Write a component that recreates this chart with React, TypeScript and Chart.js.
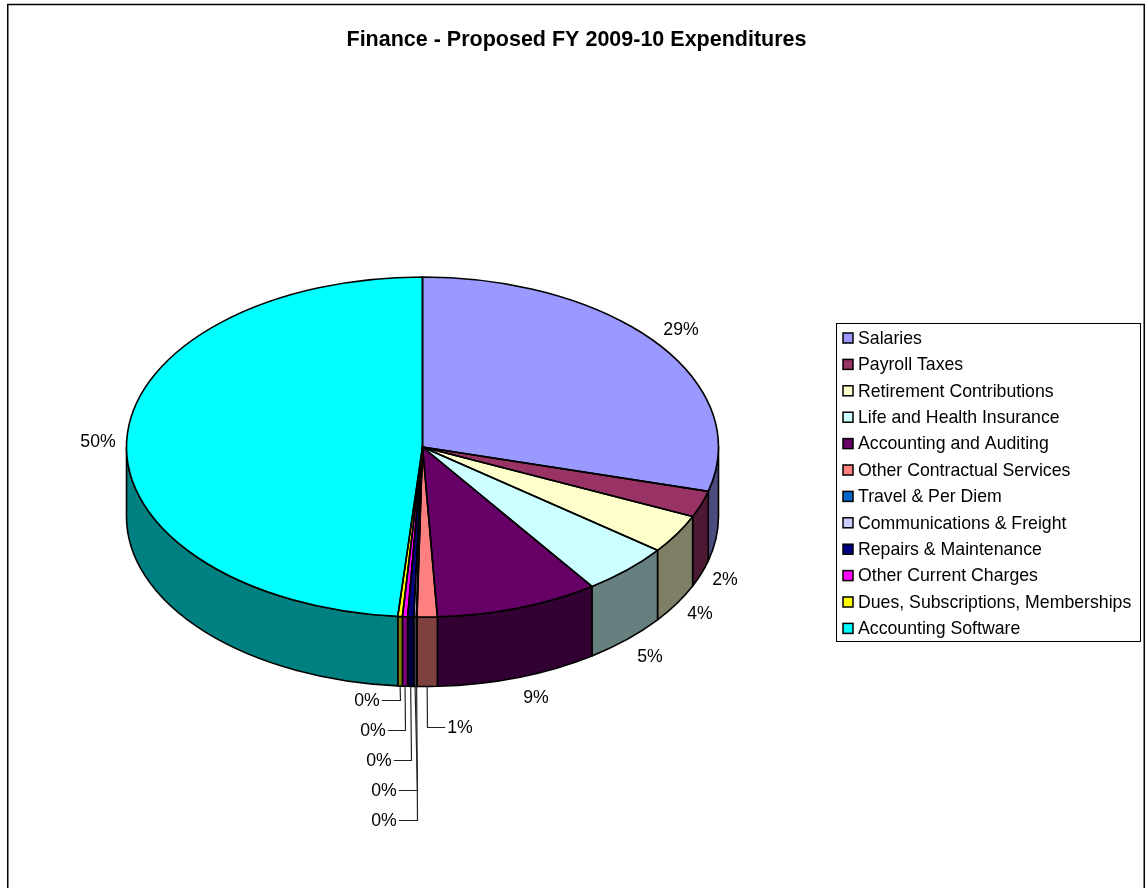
import React, { useEffect, useRef } from "react";
import { Chart, registerables } from "chart.js";

Chart.register(...registerables);

const titleText = "Finance - Proposed FY 2009-10 Expenditures";

const categories = [
  "Salaries",
  "Payroll Taxes",
  "Retirement Contributions",
  "Life and Health Insurance",
  "Accounting and Auditing",
  "Other Contractual Services",
  "Travel & Per Diem",
  "Communications & Freight",
  "Repairs & Maintenance",
  "Other Current Charges",
  "Dues, Subscriptions, Memberships",
  "Accounting Software",
];

const sliceValues = [29.2, 2.5, 3.7, 4.9, 8.9, 1.1, 0.03, 0.14, 0.33, 0.28, 0.25, 48.67];

// Percentages printed next to the slices.
const percentLabels = ["29%", "2%", "4%", "5%", "9%", "1%", "0%", "0%", "0%", "0%", "0%", "50%"];

const topColors = [
  "#9999FF", "#993366", "#FFFFCC", "#CCFFFF", "#660066", "#FF8080",
  "#0066CC", "#CCCCFF", "#000080", "#FF00FF", "#FFFF00", "#00FFFF",
];
const wallColors = [
  "#4C4C7F", "#4C1933", "#7F7F66", "#667F7F", "#330033", "#7F4040",
  "#003366", "#66667F", "#000040", "#7F007F", "#7F7F00", "#008080",
];

// Layout of the drawing (page pixels).
const CX = 422.5;
const CY = 447;
const RX = 296;
const RY = 170;
const DEPTH = 69.5;
const FONT = "'Liberation Sans', Arial, sans-serif";
const FONT_SIZE = 17.7;
const TITLE_SIZE = 21.5;
const STROKE = 1.6;
const LEGEND = { left: 836, top: 323, right: 1140, bottom: 641, firstRow: 338, rowGap: 26.4 };

// Label centres, and where a leader line bends for the labels that have one.
const labelSpots: { x: number; y: number; elbowX?: number; side?: number }[] = [
  { x: 681, y: 330 },
  { x: 725, y: 580 },
  { x: 700, y: 614 },
  { x: 650, y: 657 },
  { x: 536, y: 698 },
  { x: 460, y: 728, elbowX: 427, side: 1 },
  { x: 384, y: 821, elbowX: 417, side: -1 },
  { x: 384, y: 791, elbowX: 417, side: -1 },
  { x: 379, y: 761, elbowX: 411, side: -1 },
  { x: 373, y: 731, elbowX: 405, side: -1 },
  { x: 367, y: 701, elbowX: 400, side: -1 },
  { x: 98, y: 442 },
];

const pie3d = {
  id: "pie3d",
  beforeDraw(chart: any) {
    const ctx = chart.ctx;
    ctx.save();
    ctx.fillStyle = "#FFFFFF";
    ctx.fillRect(0, 0, chart.width, chart.height);
    ctx.strokeStyle = "#000000";
    ctx.lineWidth = 1.5;
    ctx.beginPath();
    ctx.moveTo(7.75, chart.height + 5);
    ctx.lineTo(7.75, 4.5);
    ctx.lineTo(1144.25, 4.5);
    ctx.lineTo(1144.25, chart.height + 5);
    ctx.stroke();
    ctx.restore();
  },
  afterLayout(chart: any) {
    const lg = chart.legend;
    const pad = lg.options.labels.padding;
    const itemH = FONT_SIZE;
    const boxW = lg.options.labels.boxWidth;
    lg.left = 858 - FONT_SIZE / 2 - boxW - pad;
    lg.top = LEGEND.firstRow + 1 - itemH / 2 - pad;
    lg.right = LEGEND.right;
    lg.bottom = chart.height;
  },
  beforeDatasetsDraw(chart: any) {
    const ctx = chart.ctx;
    const arcs = chart.getDatasetMeta(0).data;
    ctx.save();
    ctx.lineWidth = STROKE;
    ctx.strokeStyle = "#000000";
    ctx.lineJoin = "round";
    arcs.forEach((arc: any, i: number) => {
      const a = Math.max(arc.startAngle, 0);
      const b = Math.min(arc.endAngle, Math.PI);
      if (b <= a) return;
      ctx.beginPath();
      ctx.ellipse(CX, CY, RX, RY, 0, a, b);
      ctx.ellipse(CX, CY + DEPTH, RX, RY, 0, b, a, true);
      ctx.closePath();
      ctx.fillStyle = wallColors[i];
      ctx.fill();
      ctx.stroke();
    });
    ctx.restore();
    const first = arcs[0];
    const r = first.outerRadius;
    ctx.save();
    ctx.translate(CX, CY);
    ctx.scale(RX / r, RY / r);
    ctx.translate(-first.x, -first.y);
  },
  afterDatasetsDraw(chart: any) {
    const ctx = chart.ctx;
    ctx.restore();
    const arcs = chart.getDatasetMeta(0).data;
    ctx.save();
    ctx.lineWidth = STROKE;
    ctx.strokeStyle = "#000000";
    ctx.lineJoin = "round";
    arcs.forEach((arc: any) => {
      ctx.beginPath();
      ctx.moveTo(CX, CY);
      ctx.ellipse(CX, CY, RX, RY, 0, arc.startAngle, arc.endAngle);
      ctx.closePath();
      ctx.stroke();
    });
    ctx.restore();

    ctx.save();
    ctx.font = `${FONT_SIZE}px ${FONT}`;
    ctx.textAlign = "center";
    ctx.textBaseline = "middle";
    ctx.fillStyle = "#000000";
    ctx.strokeStyle = "#222222";
    ctx.lineWidth = 1.2;
    arcs.forEach((arc: any, i: number) => {
      const spot = labelSpots[i];
      ctx.fillText(percentLabels[i], spot.x, spot.y);
      if (spot.elbowX !== undefined) {
        const mid = (arc.startAngle + arc.endAngle) / 2;
        const sx = CX + RX * Math.cos(mid);
        const sy = CY + DEPTH + RY * Math.sin(mid);
        const half = ctx.measureText(percentLabels[i]).width / 2 + 2;
        const ly = Math.round(spot.y) - 0.5;
        ctx.beginPath();
        ctx.moveTo(sx, sy);
        ctx.lineTo(spot.elbowX + 0.5, ly);
        ctx.lineTo(spot.x - (spot.side as number) * half, ly);
        ctx.stroke();
      }
    });
    ctx.restore();
  },
  afterDraw(chart: any) {
    const ctx = chart.ctx;
    ctx.save();
    ctx.strokeStyle = "#000000";
    ctx.lineWidth = 1;
    ctx.strokeRect(
      LEGEND.left + 0.5,
      LEGEND.top + 0.5,
      LEGEND.right - LEGEND.left,
      LEGEND.bottom - LEGEND.top
    );
    ctx.lineWidth = 1.5;
    categories.forEach((_, i) => {
      const y = LEGEND.firstRow + i * LEGEND.rowGap;
      ctx.fillStyle = topColors[i];
      ctx.fillRect(843, y - 5, 10, 10);
      ctx.strokeRect(843, y - 5, 10, 10);
    });
    ctx.restore();
  },
};

export default function App() {
  const ref = useRef<HTMLCanvasElement | null>(null);
  useEffect(() => {
    if (!ref.current) return;
    const chart = new Chart(ref.current, {
      type: "pie",
      data: {
        labels: categories,
        datasets: [
          {
            data: sliceValues,
            backgroundColor: topColors,
            borderWidth: 0,
            clip: false,
          } as any,
        ],
      },
      options: {
        animation: false,
        responsive: false,
        events: [],
        rotation: 0,
        layout: { padding: { left: 8, right: 0, top: 0, bottom: 0 } },
        plugins: {
          tooltip: { enabled: false },
          title: {
            display: true,
            text: titleText,
            color: "#000000",
            font: { family: FONT, size: TITLE_SIZE, weight: "bold" },
            padding: { top: 27, bottom: 10 },
          },
          legend: {
            display: true,
            position: "right",
            align: "start",
            labels: {
              color: "#000000",
              font: { family: FONT, size: FONT_SIZE },
              boxWidth: 7,
              boxHeight: 7,
              padding: 8.7,
              generateLabels: () =>
                categories.map((text, i) => ({
                  text,
                  fillStyle: "rgba(0,0,0,0)",
                  strokeStyle: "rgba(0,0,0,0)",
                  lineWidth: 0,
                  hidden: false,
                  index: i,
                  datasetIndex: 0,
                })),
            },
          },
        },
      } as any,
      plugins: [pie3d],
    });
    return () => chart.destroy();
  }, []);
  return (
    <div style={{ position: "absolute", left: 0, top: 0 }}>
      <canvas ref={ref} width={1145} height={888} style={{ display: "block" }} />
    </div>
  );
}
